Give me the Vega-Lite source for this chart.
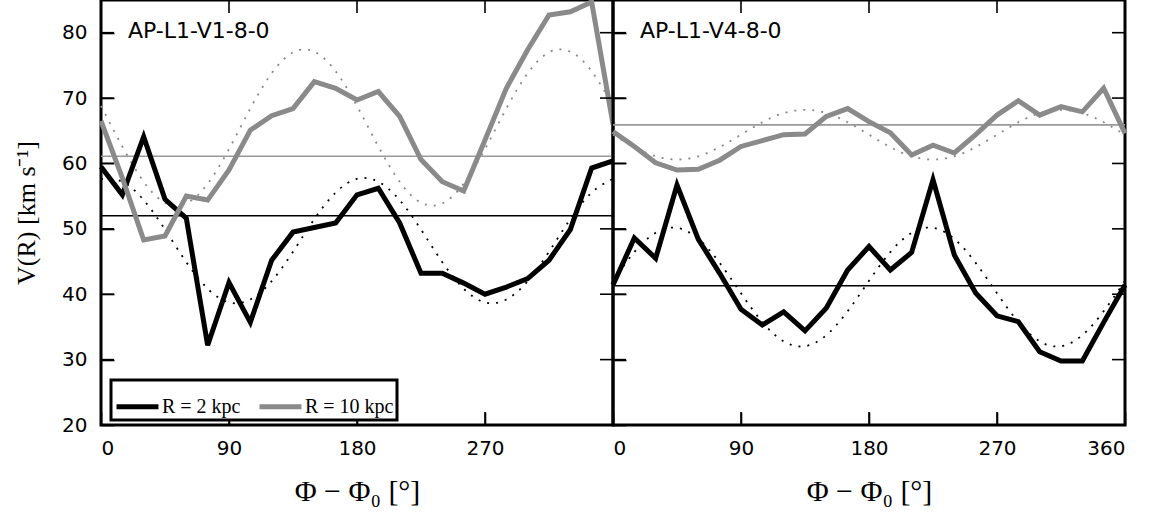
{
  "$schema": "https://vega.github.io/schema/vega-lite/v6.json",
  "padding": {"left": 12, "top": -10, "right": 5, "bottom": 5},
  "bounds": "flush",
  "config": {
    "view": {"stroke": "black", "strokeWidth": 3},
    "concat": {"spacing": 0},
    "axis": {"grid": false, "domain": false, "ticks": true, "tickColor": "#000000", "tickWidth": 1.6, "tickSize": 13, "offset": -13, "minExtent": 0,
      "labelFont": "DejaVu Sans", "labelFontSize": 20, "labelColor": "black",
      "titleFont": "Liberation Serif", "titleFontSize": 30, "titleFontWeight": "normal", "titleColor": "black"},
    "axisX": {"labelPadding": 13, "titlePadding": 18},
    "axisY": {"labelPadding": 14, "titlePadding": 22, "titleFontSize": 26}
  },
  "datasets": {
    "v1data": [
      {"phi":0,"R":"R = 2 kpc","v":59.5},{"phi":15,"R":"R = 2 kpc","v":55.2},{"phi":30,"R":"R = 2 kpc","v":64.1},{"phi":45,"R":"R = 2 kpc","v":54.5},{"phi":60,"R":"R = 2 kpc","v":51.6},{"phi":75,"R":"R = 2 kpc","v":32.2},{"phi":90,"R":"R = 2 kpc","v":41.8},{"phi":105,"R":"R = 2 kpc","v":35.7},{"phi":120,"R":"R = 2 kpc","v":45.2},{"phi":135,"R":"R = 2 kpc","v":49.5},{"phi":150,"R":"R = 2 kpc","v":50.2},{"phi":165,"R":"R = 2 kpc","v":50.9},{"phi":180,"R":"R = 2 kpc","v":55.2},{"phi":195,"R":"R = 2 kpc","v":56.2},{"phi":210,"R":"R = 2 kpc","v":50.9},{"phi":225,"R":"R = 2 kpc","v":43.2},{"phi":240,"R":"R = 2 kpc","v":43.2},{"phi":255,"R":"R = 2 kpc","v":41.7},{"phi":270,"R":"R = 2 kpc","v":40.0},{"phi":285,"R":"R = 2 kpc","v":41.1},{"phi":300,"R":"R = 2 kpc","v":42.4},{"phi":315,"R":"R = 2 kpc","v":45.2},{"phi":330,"R":"R = 2 kpc","v":49.9},{"phi":345,"R":"R = 2 kpc","v":59.3},{"phi":360,"R":"R = 2 kpc","v":60.4},
      {"phi":0,"R":"R = 10 kpc","v":66.5},{"phi":15,"R":"R = 10 kpc","v":57.8},{"phi":30,"R":"R = 10 kpc","v":48.3},{"phi":45,"R":"R = 10 kpc","v":48.9},{"phi":60,"R":"R = 10 kpc","v":55.0},{"phi":75,"R":"R = 10 kpc","v":54.4},{"phi":90,"R":"R = 10 kpc","v":59.0},{"phi":105,"R":"R = 10 kpc","v":65.1},{"phi":120,"R":"R = 10 kpc","v":67.3},{"phi":135,"R":"R = 10 kpc","v":68.4},{"phi":150,"R":"R = 10 kpc","v":72.5},{"phi":165,"R":"R = 10 kpc","v":71.5},{"phi":180,"R":"R = 10 kpc","v":69.7},{"phi":195,"R":"R = 10 kpc","v":71.0},{"phi":210,"R":"R = 10 kpc","v":67.2},{"phi":225,"R":"R = 10 kpc","v":60.6},{"phi":240,"R":"R = 10 kpc","v":57.2},{"phi":255,"R":"R = 10 kpc","v":55.8},{"phi":270,"R":"R = 10 kpc","v":63.6},{"phi":285,"R":"R = 10 kpc","v":71.5},{"phi":300,"R":"R = 10 kpc","v":77.4},{"phi":315,"R":"R = 10 kpc","v":82.7},{"phi":330,"R":"R = 10 kpc","v":83.2},{"phi":345,"R":"R = 10 kpc","v":84.7},{"phi":360,"R":"R = 10 kpc","v":66.0}
    ],
    "v1fit": [
      {"phi":0,"R":"R = 2 kpc","v":57.65},{"phi":15,"R":"R = 2 kpc","v":57.2},{"phi":30,"R":"R = 2 kpc","v":54.4},{"phi":45,"R":"R = 2 kpc","v":49.9},{"phi":60,"R":"R = 2 kpc","v":44.9},{"phi":75,"R":"R = 2 kpc","v":40.85},{"phi":90,"R":"R = 2 kpc","v":38.75},{"phi":105,"R":"R = 2 kpc","v":39.2},{"phi":120,"R":"R = 2 kpc","v":42.0},{"phi":135,"R":"R = 2 kpc","v":46.5},{"phi":150,"R":"R = 2 kpc","v":51.5},{"phi":165,"R":"R = 2 kpc","v":55.55},{"phi":180,"R":"R = 2 kpc","v":57.65},{"phi":195,"R":"R = 2 kpc","v":57.2},{"phi":210,"R":"R = 2 kpc","v":54.4},{"phi":225,"R":"R = 2 kpc","v":49.9},{"phi":240,"R":"R = 2 kpc","v":44.9},{"phi":255,"R":"R = 2 kpc","v":40.85},{"phi":270,"R":"R = 2 kpc","v":38.75},{"phi":285,"R":"R = 2 kpc","v":39.2},{"phi":300,"R":"R = 2 kpc","v":42.0},{"phi":315,"R":"R = 2 kpc","v":46.5},{"phi":330,"R":"R = 2 kpc","v":51.5},{"phi":345,"R":"R = 2 kpc","v":55.55},{"phi":360,"R":"R = 2 kpc","v":57.65},
      {"phi":0,"R":"R = 10 kpc","v":68.8},{"phi":15,"R":"R = 10 kpc","v":62.6},{"phi":30,"R":"R = 10 kpc","v":57.2},{"phi":45,"R":"R = 10 kpc","v":54.0},{"phi":60,"R":"R = 10 kpc","v":53.9},{"phi":75,"R":"R = 10 kpc","v":56.9},{"phi":90,"R":"R = 10 kpc","v":62.2},{"phi":105,"R":"R = 10 kpc","v":68.4},{"phi":120,"R":"R = 10 kpc","v":73.8},{"phi":135,"R":"R = 10 kpc","v":77.0},{"phi":150,"R":"R = 10 kpc","v":77.1},{"phi":165,"R":"R = 10 kpc","v":74.1},{"phi":180,"R":"R = 10 kpc","v":68.8},{"phi":195,"R":"R = 10 kpc","v":62.6},{"phi":210,"R":"R = 10 kpc","v":57.2},{"phi":225,"R":"R = 10 kpc","v":54.0},{"phi":240,"R":"R = 10 kpc","v":53.9},{"phi":255,"R":"R = 10 kpc","v":56.9},{"phi":270,"R":"R = 10 kpc","v":62.2},{"phi":285,"R":"R = 10 kpc","v":68.4},{"phi":300,"R":"R = 10 kpc","v":73.8},{"phi":315,"R":"R = 10 kpc","v":77.0},{"phi":330,"R":"R = 10 kpc","v":77.1},{"phi":345,"R":"R = 10 kpc","v":74.1},{"phi":360,"R":"R = 10 kpc","v":68.8}
    ],
    "v4data": [
      {"phi":0,"R":"R = 2 kpc","v":41.4},{"phi":15,"R":"R = 2 kpc","v":48.6},{"phi":30,"R":"R = 2 kpc","v":45.5},{"phi":45,"R":"R = 2 kpc","v":56.7},{"phi":60,"R":"R = 2 kpc","v":48.4},{"phi":75,"R":"R = 2 kpc","v":43.2},{"phi":90,"R":"R = 2 kpc","v":37.7},{"phi":105,"R":"R = 2 kpc","v":35.3},{"phi":120,"R":"R = 2 kpc","v":37.3},{"phi":135,"R":"R = 2 kpc","v":34.4},{"phi":150,"R":"R = 2 kpc","v":37.9},{"phi":165,"R":"R = 2 kpc","v":43.7},{"phi":180,"R":"R = 2 kpc","v":47.3},{"phi":195,"R":"R = 2 kpc","v":43.7},{"phi":210,"R":"R = 2 kpc","v":46.4},{"phi":225,"R":"R = 2 kpc","v":57.5},{"phi":240,"R":"R = 2 kpc","v":46.0},{"phi":255,"R":"R = 2 kpc","v":40.2},{"phi":270,"R":"R = 2 kpc","v":36.7},{"phi":285,"R":"R = 2 kpc","v":35.8},{"phi":300,"R":"R = 2 kpc","v":31.2},{"phi":315,"R":"R = 2 kpc","v":29.8},{"phi":330,"R":"R = 2 kpc","v":29.8},{"phi":345,"R":"R = 2 kpc","v":35.7},{"phi":360,"R":"R = 2 kpc","v":41.4},
      {"phi":0,"R":"R = 10 kpc","v":64.9},{"phi":15,"R":"R = 10 kpc","v":62.6},{"phi":30,"R":"R = 10 kpc","v":60.1},{"phi":45,"R":"R = 10 kpc","v":59.0},{"phi":60,"R":"R = 10 kpc","v":59.1},{"phi":75,"R":"R = 10 kpc","v":60.5},{"phi":90,"R":"R = 10 kpc","v":62.6},{"phi":105,"R":"R = 10 kpc","v":63.5},{"phi":120,"R":"R = 10 kpc","v":64.4},{"phi":135,"R":"R = 10 kpc","v":64.5},{"phi":150,"R":"R = 10 kpc","v":67.2},{"phi":165,"R":"R = 10 kpc","v":68.4},{"phi":180,"R":"R = 10 kpc","v":66.4},{"phi":195,"R":"R = 10 kpc","v":64.7},{"phi":210,"R":"R = 10 kpc","v":61.3},{"phi":225,"R":"R = 10 kpc","v":62.8},{"phi":240,"R":"R = 10 kpc","v":61.6},{"phi":255,"R":"R = 10 kpc","v":64.4},{"phi":270,"R":"R = 10 kpc","v":67.4},{"phi":285,"R":"R = 10 kpc","v":69.6},{"phi":300,"R":"R = 10 kpc","v":67.4},{"phi":315,"R":"R = 10 kpc","v":68.7},{"phi":330,"R":"R = 10 kpc","v":67.9},{"phi":345,"R":"R = 10 kpc","v":71.5},{"phi":360,"R":"R = 10 kpc","v":64.6}
    ],
    "v4fit": [
      {"phi":0,"R":"R = 2 kpc","v":42.05},{"phi":15,"R":"R = 2 kpc","v":46.45},{"phi":30,"R":"R = 2 kpc","v":49.4},{"phi":45,"R":"R = 2 kpc","v":50.15},{"phi":60,"R":"R = 2 kpc","v":48.45},{"phi":75,"R":"R = 2 kpc","v":44.8},{"phi":90,"R":"R = 2 kpc","v":40.15},{"phi":105,"R":"R = 2 kpc","v":35.75},{"phi":120,"R":"R = 2 kpc","v":32.8},{"phi":135,"R":"R = 2 kpc","v":32.05},{"phi":150,"R":"R = 2 kpc","v":33.75},{"phi":165,"R":"R = 2 kpc","v":37.4},{"phi":180,"R":"R = 2 kpc","v":42.05},{"phi":195,"R":"R = 2 kpc","v":46.45},{"phi":210,"R":"R = 2 kpc","v":49.4},{"phi":225,"R":"R = 2 kpc","v":50.15},{"phi":240,"R":"R = 2 kpc","v":48.45},{"phi":255,"R":"R = 2 kpc","v":44.8},{"phi":270,"R":"R = 2 kpc","v":40.15},{"phi":285,"R":"R = 2 kpc","v":35.75},{"phi":300,"R":"R = 2 kpc","v":32.8},{"phi":315,"R":"R = 2 kpc","v":32.05},{"phi":330,"R":"R = 2 kpc","v":33.75},{"phi":345,"R":"R = 2 kpc","v":37.4},{"phi":360,"R":"R = 2 kpc","v":42.05},
      {"phi":0,"R":"R = 10 kpc","v":64.4},{"phi":15,"R":"R = 10 kpc","v":62.5},{"phi":30,"R":"R = 10 kpc","v":61.1},{"phi":45,"R":"R = 10 kpc","v":60.6},{"phi":60,"R":"R = 10 kpc","v":61.1},{"phi":75,"R":"R = 10 kpc","v":62.5},{"phi":90,"R":"R = 10 kpc","v":64.4},{"phi":105,"R":"R = 10 kpc","v":66.3},{"phi":120,"R":"R = 10 kpc","v":67.7},{"phi":135,"R":"R = 10 kpc","v":68.2},{"phi":150,"R":"R = 10 kpc","v":67.7},{"phi":165,"R":"R = 10 kpc","v":66.3},{"phi":180,"R":"R = 10 kpc","v":64.4},{"phi":195,"R":"R = 10 kpc","v":62.5},{"phi":210,"R":"R = 10 kpc","v":61.1},{"phi":225,"R":"R = 10 kpc","v":60.6},{"phi":240,"R":"R = 10 kpc","v":61.1},{"phi":255,"R":"R = 10 kpc","v":62.5},{"phi":270,"R":"R = 10 kpc","v":64.4},{"phi":285,"R":"R = 10 kpc","v":66.3},{"phi":300,"R":"R = 10 kpc","v":67.7},{"phi":315,"R":"R = 10 kpc","v":68.2},{"phi":330,"R":"R = 10 kpc","v":67.7},{"phi":345,"R":"R = 10 kpc","v":66.3},{"phi":360,"R":"R = 10 kpc","v":64.4}
    ],
    "v1mean": [{"R":"R = 2 kpc","v":52.0},{"R":"R = 10 kpc","v":61.1}],
    "v4mean": [{"R":"R = 2 kpc","v":41.3},{"R":"R = 10 kpc","v":65.9}],
    "v1label": [{"label":"AP-L1-V1-8-0","phi":19,"v":80.2}],
    "v4label": [{"label":"AP-L1-V4-8-0","phi":19,"v":80.2}],
    "yticks": [{"v":30},{"v":40},{"v":50},{"v":60},{"v":70},{"v":80}],
    "xticks": [{"phi":90},{"phi":180},{"phi":270}]
  },
  "resolve": {"scale": {"color": "independent"}},
  "hconcat": [
    {
      "width": 512, "height": 425,
      "resolve": {"axis": {"x": "independent", "y": "independent"}},
      "layer": [
        {
          "data": {"name": "v1mean"},
          "mark": {"type": "rule", "strokeWidth": 1.6},
          "encoding": {
            "y": {"field": "v", "type": "quantitative", "scale": {"domain": [20, 85], "nice": false}, "axis": null},
            "stroke": {"condition": {"test": "datum.R === 'R = 2 kpc'", "value": "#000000"}, "value": "#999999"}
          }
        },
        {
          "data": {"name": "v1fit"},
          "mark": {"type": "line", "strokeWidth": 1.8, "strokeDash": [2, 7], "interpolate": "natural"},
          "encoding": {
            "x": {"field": "phi", "type": "quantitative", "scale": {"domain": [0, 360], "nice": false}, "axis": null},
            "y": {"field": "v", "type": "quantitative", "scale": {"domain": [20, 85], "nice": false}, "axis": null},
            "detail": {"field": "R"},
            "stroke": {"condition": {"test": "datum.R === 'R = 2 kpc'", "value": "#000000"}, "value": "#8a8a8a"}
          }
        },
        {
          "data": {"name": "v1data"},
          "mark": {"type": "line", "strokeWidth": 5, "strokeJoin": "miter"},
          "encoding": {
            "x": {"field": "phi", "type": "quantitative", "scale": {"domain": [0, 360], "nice": false},
              "axis": {"orient": "bottom", "values": [0, 90, 180, 270], "title": "Φ − Φ₀ [°]"}},
            "y": {"field": "v", "type": "quantitative", "scale": {"domain": [20, 85], "nice": false},
              "axis": {"orient": "left", "values": [20,30,40,50,60,70,80], "title": "V(R) [km s⁻¹]"}},
            "color": {"field": "R", "type": "nominal", "scale": {"domain": ["R = 2 kpc", "R = 10 kpc"], "range": ["#000000", "#8a8a8a"]},
              "legend": {"title": null, "orient": "none", "legendX": 10, "legendY": 380, "direction": "horizontal",
                "symbolType": "stroke", "symbolSize": 1760, "symbolStrokeWidth": 5, "columnPadding": 8, "labelOffset": 1,
                "labelFont": "Liberation Serif", "labelFontSize": 20, "labelColor": "black", "padding": 3,
                "strokeColor": "black", "fillColor": "white",
                "encode": {"legend": {"update": {"strokeWidth": {"value": 3}}}}}}
          }
        },
        {
          "data": {"name": "v1label"},
          "mark": {"type": "text", "align": "left", "baseline": "middle", "font": "DejaVu Sans", "fontSize": 22, "color": "black"},
          "encoding": {
            "x": {"field": "phi", "type": "quantitative", "scale": {"domain": [0, 360], "nice": false}, "axis": null},
            "y": {"field": "v", "type": "quantitative", "scale": {"domain": [20, 85], "nice": false}, "axis": null},
            "text": {"field": "label"}
          }
        },
        {
          "data": {"name": "yticks"},
          "mark": {"type": "tick", "orient": "horizontal", "size": 26, "thickness": 1.6, "color": "#000000", "opacity": 1, "clip": true},
          "encoding": {
            "x": {"datum": 0, "type": "quantitative", "scale": {"domain": [0, 360], "nice": false}, "axis": null},
            "y": {"field": "v", "type": "quantitative", "scale": {"domain": [20, 85], "nice": false}, "axis": null}
          }
        },
        {
          "data": {"name": "yticks"},
          "mark": {"type": "tick", "orient": "horizontal", "size": 26, "thickness": 1.6, "color": "#000000", "opacity": 1, "clip": true},
          "encoding": {
            "x": {"datum": 360, "type": "quantitative", "scale": {"domain": [0, 360], "nice": false}, "axis": null},
            "y": {"field": "v", "type": "quantitative", "scale": {"domain": [20, 85], "nice": false}, "axis": null}
          }
        },
        {
          "data": {"name": "xticks"},
          "mark": {"type": "tick", "orient": "vertical", "size": 26, "thickness": 1.6, "color": "#000000", "opacity": 1, "clip": true},
          "encoding": {
            "x": {"field": "phi", "type": "quantitative", "scale": {"domain": [0, 360], "nice": false}, "axis": null},
            "y": {"datum": 20, "type": "quantitative", "scale": {"domain": [20, 85], "nice": false}, "axis": null}
          }
        },
        {
          "data": {"name": "xticks"},
          "mark": {"type": "tick", "orient": "vertical", "size": 26, "thickness": 1.6, "color": "#000000", "opacity": 1, "clip": true},
          "encoding": {
            "x": {"field": "phi", "type": "quantitative", "scale": {"domain": [0, 360], "nice": false}, "axis": null},
            "y": {"datum": 85, "type": "quantitative", "scale": {"domain": [20, 85], "nice": false}, "axis": null}
          }
        }
      ]
    },
    {
      "width": 512, "height": 425,
      "resolve": {"axis": {"x": "independent", "y": "independent"}},
      "layer": [
        {
          "data": {"name": "v4mean"},
          "mark": {"type": "rule", "strokeWidth": 1.6},
          "encoding": {
            "y": {"field": "v", "type": "quantitative", "scale": {"domain": [20, 85], "nice": false}, "axis": null},
            "stroke": {"condition": {"test": "datum.R === 'R = 2 kpc'", "value": "#000000"}, "value": "#999999"}
          }
        },
        {
          "data": {"name": "v4fit"},
          "mark": {"type": "line", "strokeWidth": 1.8, "strokeDash": [2, 7], "interpolate": "natural"},
          "encoding": {
            "x": {"field": "phi", "type": "quantitative", "scale": {"domain": [0, 360], "nice": false}, "axis": null},
            "y": {"field": "v", "type": "quantitative", "scale": {"domain": [20, 85], "nice": false}, "axis": null},
            "detail": {"field": "R"},
            "stroke": {"condition": {"test": "datum.R === 'R = 2 kpc'", "value": "#000000"}, "value": "#8a8a8a"}
          }
        },
        {
          "data": {"name": "v4data"},
          "mark": {"type": "line", "strokeWidth": 5, "strokeJoin": "miter"},
          "encoding": {
            "x": {"field": "phi", "type": "quantitative", "scale": {"domain": [0, 360], "nice": false},
              "axis": {"orient": "bottom", "values": [0, 90, 180, 270, 360], "title": "Φ − Φ₀ [°]"}},
            "y": {"field": "v", "type": "quantitative", "scale": {"domain": [20, 85], "nice": false},
              "axis": {"orient": "left", "values": [20,30,40,50,60,70,80], "labels": false, "title": null}},
            "color": {"field": "R", "type": "nominal", "scale": {"domain": ["R = 2 kpc", "R = 10 kpc"], "range": ["#000000", "#8a8a8a"]}, "legend": null}
          }
        },
        {
          "data": {"name": "v4label"},
          "mark": {"type": "text", "align": "left", "baseline": "middle", "font": "DejaVu Sans", "fontSize": 22, "color": "black"},
          "encoding": {
            "x": {"field": "phi", "type": "quantitative", "scale": {"domain": [0, 360], "nice": false}, "axis": null},
            "y": {"field": "v", "type": "quantitative", "scale": {"domain": [20, 85], "nice": false}, "axis": null},
            "text": {"field": "label"}
          }
        },
        {
          "data": {"name": "yticks"},
          "mark": {"type": "tick", "orient": "horizontal", "size": 26, "thickness": 1.6, "color": "#000000", "opacity": 1, "clip": true},
          "encoding": {
            "x": {"datum": 0, "type": "quantitative", "scale": {"domain": [0, 360], "nice": false}, "axis": null},
            "y": {"field": "v", "type": "quantitative", "scale": {"domain": [20, 85], "nice": false}, "axis": null}
          }
        },
        {
          "data": {"name": "yticks"},
          "mark": {"type": "tick", "orient": "horizontal", "size": 26, "thickness": 1.6, "color": "#000000", "opacity": 1, "clip": true},
          "encoding": {
            "x": {"datum": 360, "type": "quantitative", "scale": {"domain": [0, 360], "nice": false}, "axis": null},
            "y": {"field": "v", "type": "quantitative", "scale": {"domain": [20, 85], "nice": false}, "axis": null}
          }
        },
        {
          "data": {"name": "xticks"},
          "mark": {"type": "tick", "orient": "vertical", "size": 26, "thickness": 1.6, "color": "#000000", "opacity": 1, "clip": true},
          "encoding": {
            "x": {"field": "phi", "type": "quantitative", "scale": {"domain": [0, 360], "nice": false}, "axis": null},
            "y": {"datum": 20, "type": "quantitative", "scale": {"domain": [20, 85], "nice": false}, "axis": null}
          }
        },
        {
          "data": {"name": "xticks"},
          "mark": {"type": "tick", "orient": "vertical", "size": 26, "thickness": 1.6, "color": "#000000", "opacity": 1, "clip": true},
          "encoding": {
            "x": {"field": "phi", "type": "quantitative", "scale": {"domain": [0, 360], "nice": false}, "axis": null},
            "y": {"datum": 85, "type": "quantitative", "scale": {"domain": [20, 85], "nice": false}, "axis": null}
          }
        }
      ]
    }
  ]
}
